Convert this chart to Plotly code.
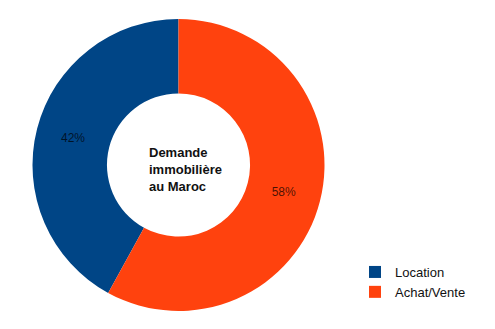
import plotly.graph_objects as go

labels = ["Location", "Achat/Vente"]
values = [42, 58]
colors = ["#004586", "#ff420e"]
center_lines = ["Demande", "immobilière", "au Maroc"]

W, H = 495, 329
cx, cy, R = 178.5, 165, 146

start_rot = -360 * values[0] / sum(values)

fig = go.Figure(go.Pie(
    labels=labels,
    values=values,
    hole=0.49,
    sort=False,
    direction="clockwise",
    rotation=start_rot,
    marker=dict(colors=colors, line=dict(width=0)),
    textinfo="percent",
    textposition="inside",
    insidetextorientation="horizontal",
    textfont=dict(family="Liberation Sans, Arial, sans-serif", size=12, color="rgba(0,0,0,0.72)"),
    domain=dict(x=[(cx - R) / W, (cx + R) / W], y=[1 - (cy + R) / H, 1 - (cy - R) / H]),
    showlegend=True,
))

fig.add_annotation(
    x=147 / W, y=1 - 169 / H, xref="paper", yref="paper",
    xanchor="left", yanchor="middle", align="left",
    text="<br>".join("<b>" + s + "</b>" for s in center_lines), showarrow=False,
    font=dict(family="Liberation Sans, Arial, sans-serif", size=13, color="#111"),
)

fig.update_layout(
    width=W, height=H,
    margin=dict(l=0, r=0, t=0, b=0),
    paper_bgcolor="white", plot_bgcolor="white",
    legend=dict(
        x=355 / W, y=1 - 257 / H, xanchor="left", yanchor="top",
        font=dict(family="Liberation Sans, Arial, sans-serif", size=13, color="#111"),
        tracegroupgap=0, itemwidth=30,
    ),
)

fig.write_html("out.html")
